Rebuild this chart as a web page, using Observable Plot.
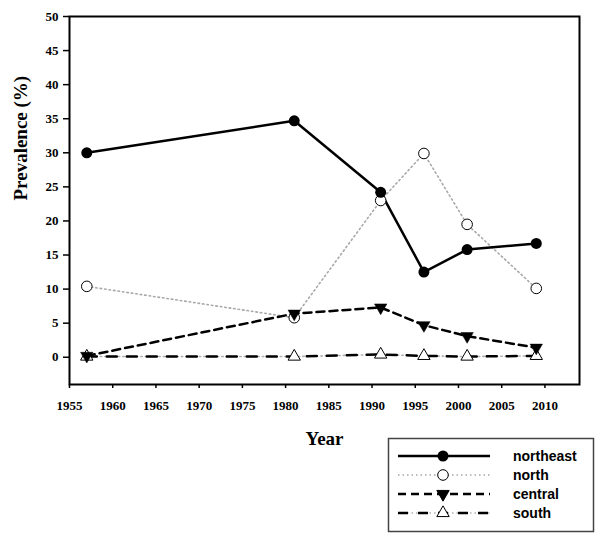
<!DOCTYPE html>
<html>
<head>
<meta charset="utf-8">
<script src="https://cdn.jsdelivr.net/npm/d3@7"></script>
<script src="https://cdn.jsdelivr.net/npm/@observablehq/plot@0.6"></script>
<style>
  html, body { margin: 0; padding: 0; background: white; }
  #wrap { position: relative; width: 601px; height: 541px; }
  #legend { position: absolute; left: 0; top: 0; pointer-events: none; }
</style>
</head>
<body>
<div id="wrap"></div>
<script>
const years = [1957, 1981, 1991, 1996, 2001, 2009];
const northeast = [30.0, 34.7, 24.2, 12.5, 15.8, 16.7];
const north = [10.4, 5.8, 23.0, 29.9, 19.5, 10.1];
const central = [0.2, 6.4, 7.3, 4.7, 3.1, 1.4];
const south = [0.1, 0.1, 0.4, 0.2, 0.1, 0.2];
const seriesNames = ["northeast", "north", "central", "south"];
const xTicks = [1955, 1960, 1965, 1970, 1975, 1980, 1985, 1990, 1995, 2000, 2005, 2010];
const yTicks = [0, 5, 10, 15, 20, 25, 30, 35, 40, 45, 50];
const xLabel = "Year";
const yLabel = "Prevalence (%)";

const rows = (vals) => years.map((year, i) => ({year, value: vals[i]}));
const dataNE = rows(northeast), dataN = rows(north), dataC = rows(central), dataS = rows(south);

const serif = "'Liberation Serif', 'Times New Roman', serif";
const sqrt3 = Math.sqrt(3);
const triangleDown = {
  draw(context, size) {
    const y = -Math.sqrt(size / (sqrt3 * 3));
    context.moveTo(0, -y * 2);
    context.lineTo(-sqrt3 * y, y);
    context.lineTo(sqrt3 * y, y);
    context.closePath();
  }
};

const chart = Plot.plot({
  width: 601,
  height: 541,
  marginLeft: 69,
  marginRight: 22,
  marginTop: 16,
  marginBottom: 157,
  style: {fontFamily: serif, fontWeight: "bold", fontSize: "13px", background: "white", color: "black"},
  x: {domain: [1955, 2014]},
  y: {domain: [-4, 50]},
  marks: [
    Plot.axisY({ticks: yTicks, tickSize: 6, tickPadding: 5, fontSize: 13, label: null, strokeWidth: 1.5}),
    Plot.axisX({ticks: xTicks, tickSize: 4, tickPadding: 12, fontSize: 13, tickFormat: d => String(d), label: null, strokeWidth: 1.5}),
    Plot.frame({stroke: "black", strokeWidth: 2}),
    Plot.line(dataN, {x: "year", y: "value", stroke: "#a8a8a8", strokeWidth: 1.6, strokeDasharray: "1.5,3"}),
    Plot.line(dataS, {x: "year", y: "value", stroke: "#b0b0b0", strokeWidth: 1.6, strokeDasharray: "1.5,3"}),
    Plot.line(dataS, {x: "year", y: "value", stroke: "black", strokeWidth: 2.5, strokeDasharray: "10,10"}),
    Plot.line(dataC, {x: "year", y: "value", stroke: "black", strokeWidth: 2.5, strokeDasharray: "8,5"}),
    Plot.line(dataNE, {x: "year", y: "value", stroke: "black", strokeWidth: 2.5}),
    Plot.dot(dataN, {x: "year", y: "value", symbol: "circle", r: 5.3, fill: "white", stroke: "black", strokeWidth: 1}),
    Plot.dot(dataS, {x: "year", y: "value", symbol: "triangle", r: 4.6, fill: "white", stroke: "black", strokeWidth: 1}),
    Plot.dot(dataC, {x: "year", y: "value", symbol: triangleDown, r: 4.6, fill: "black", stroke: "black", strokeWidth: 0.5}),
    Plot.dot(dataNE, {x: "year", y: "value", symbol: "circle", r: 5.5, fill: "black"}),
    Plot.text([xLabel], {frameAnchor: "bottom", text: d => d, dy: 54, lineAnchor: "middle", fontSize: 19}),
    Plot.text([yLabel], {frameAnchor: "left", text: d => d, dx: -49, rotate: -90, lineAnchor: "middle", fontSize: 19})
  ]
});
document.getElementById("wrap").appendChild(chart);
// force serif bold on every text of the chart; tick labels at 13px
d3.select(chart).selectAll("g, text").style("font-family", serif).style("font-weight", "bold");
d3.select(chart).selectAll("text").each(function() {
  if (/^\d+$/.test(this.textContent.trim())) d3.select(this).style("font-size", "13px").style("font-variant", "normal");
});

// Legend
const styles = {
  northeast: {lines: [{stroke: "black", width: 2.5, dash: null}], symbol: d3.symbolCircle, r: 5.5, fill: "black", sStroke: "none"},
  north: {lines: [{stroke: "#a8a8a8", width: 1.6, dash: "1.5,3"}], symbol: d3.symbolCircle, r: 5.3, fill: "white", sStroke: "black"},
  central: {lines: [{stroke: "black", width: 2.5, dash: "8,5"}], symbol: triangleDown, r: 4.6, fill: "black", sStroke: "black"},
  south: {lines: [{stroke: "#b0b0b0", width: 1.6, dash: "1.5,3"}, {stroke: "black", width: 2.5, dash: "10,10"}], symbol: d3.symbolTriangle, r: 4.6, fill: "white", sStroke: "black"}
};
const svg = d3.select("#wrap").append("svg")
  .attr("id", "legend").attr("width", 601).attr("height", 541);
svg.append("rect")
  .attr("x", 388.5).attr("y", 438.5).attr("width", 205).attr("height", 93)
  .attr("fill", "white").attr("stroke", "#444").attr("stroke-width", 1.5);
seriesNames.forEach((name, i) => {
  const yy = 456 + i * 19;
  const st = styles[name];
  const g = svg.append("g");
  st.lines.forEach(l => {
    g.append("line").attr("x1", 398).attr("x2", 490).attr("y1", yy).attr("y2", yy)
      .attr("stroke", l.stroke).attr("stroke-width", l.width)
      .attr("stroke-dasharray", l.dash);
  });
  g.append("path")
    .attr("transform", `translate(443,${yy})`)
    .attr("d", d3.symbol(st.symbol, st.r * st.r * Math.PI)())
    .attr("fill", st.fill).attr("stroke", st.sStroke).attr("stroke-width", 1);
  g.append("text").attr("x", 513).attr("y", yy).attr("dy", "0.35em")
    .style("font-family", "'Liberation Sans', Arial, sans-serif").style("font-weight", "bold")
    .style("font-size", "14px").text(name);
});
</script>
</body>
</html>
